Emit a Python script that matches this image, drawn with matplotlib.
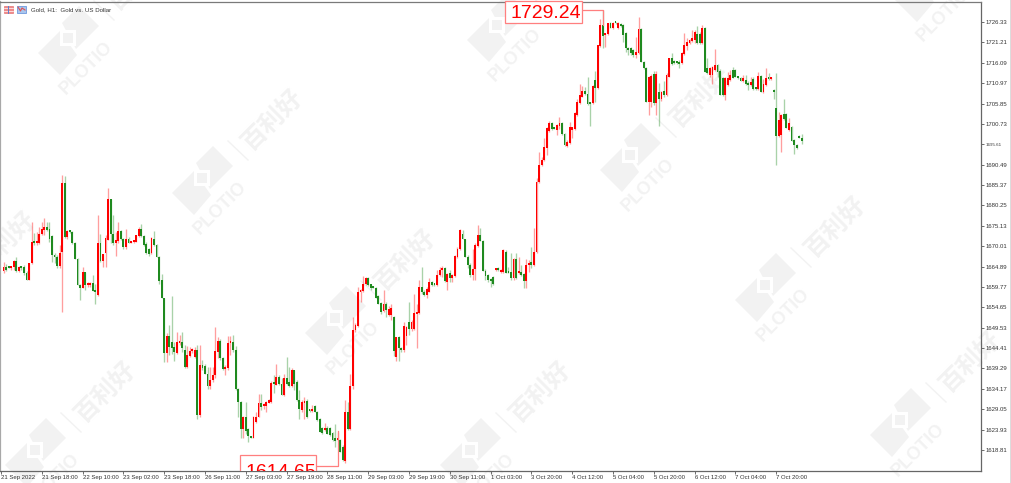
import numpy as np
import matplotlib
matplotlib.use("Agg")
import matplotlib.pyplot as plt
from matplotlib.patches import Polygon, Rectangle
from matplotlib.transforms import IdentityTransform

opens = [
1663.8,1664.8,1664.8,1664.4,1664.8,1666.3,1663.8,1664.8,1664.8,1663.3,
1661.6,1665.7,1671.1,1670.7,1670.7,1673.0,1674.0,1674.9,1674.2,1672.5,
1667.8,1667.3,1665.0,1668.6,1685.8,1672.2,1673.8,1673.6,1670.9,1666.9,
1660.2,1659.6,1663.6,1660.2,1660.2,1660.8,1659.0,1657.7,1670.7,1666.3,
1668.2,1671.5,1681.8,1673.0,1670.7,1671.3,1673.8,1671.7,1669.7,1671.9,
1670.9,1671.0,1671.1,1672.5,1674.2,1672.5,1670.5,1669.2,1668.2,1671.8,
1670.3,1667.3,1661.5,1656.9,1643.2,1647.4,1646.0,1644.7,1643.2,1645.6,
1646.0,1644.0,1639.7,1642.5,1643.6,1642.2,1643.9,1627.6,1640.1,1639.9,
1638.0,1634.8,1636.3,1637.6,1643.5,1646.2,1641.8,1639.1,1639.3,1645.6,
1646.0,1643.9,1634.1,1630.9,1624.0,1627.1,1624.0,1622.1,1621.9,1625.9,
1627.1,1630.5,1629.8,1629.8,1630.7,1630.9,1635.7,1635.1,1637.2,1635.5,
1632.6,1636.8,1635.8,1634.9,1638.9,1635.9,1631.3,1628.8,1630.6,1631.1,
1628.8,1628.6,1629.8,1628.4,1626.7,1624.2,1623.8,1624.2,1624.2,1623.1,
1621.7,1621.3,1621.4,1619.6,1616.1,1628.4,1624.0,1634.8,1648.9,1649.9,
1658.6,1658.8,1660.5,1661.9,1660.4,1659.6,1659.5,1657.5,1655.8,1653.8,
1655.5,1652.7,1652.7,1652.1,1642.2,1647.1,1644.5,1643.9,1647.4,1651.0,
1649.1,1649.1,1652.9,1653.1,1659.8,1658.6,1657.7,1658.6,1660.9,1660.4,
1660.2,1662.7,1664.0,1664.6,1661.1,1663.2,1661.9,1662.5,1667.3,1669.2,
1673.0,1671.7,1667.3,1665.3,1662.7,1664.2,1670.0,1672.8,1671.4,1663.8,
1662.7,1661.7,1662.3,1664.0,1664.4,1663.6,1663.6,1668.6,1663.6,1663.6,
1661.9,1666.7,1663.2,1663.4,1662.9,1661.2,1665.3,1666.1,1665.3,1668.6,
1686.1,1690.4,1691.6,1694.6,1699.0,1700.9,1699.6,1699.3,1700.2,1701.0,
1698.3,1695.2,1696.0,1699.2,1699.5,1702.9,1705.9,1707.6,1709.1,1708.2,
1706.0,1705.9,1711.7,1709.7,1720.3,1725.6,1723.1,1723.2,1726.0,1724.7,
1726.2,1724.7,1725.8,1725.6,1723.5,1719.7,1719.7,1719.3,1718.0,1718.5,
1724.5,1716.4,1714.7,1706.3,1706.3,1713.3,1705.9,1708.8,1706.9,1709.1,
1708.0,1712.6,1717.2,1716.4,1716.1,1716.4,1716.0,1718.3,1720.3,1721.1,
1721.6,1721.8,1723.3,1723.3,1721.0,1724.7,1714.7,1713.0,1713.0,1714.3,
1715.5,1714.1,1712.2,1708.0,1710.5,1711.8,1714.3,1714.3,1712.4,1712.2,
1711.6,1711.8,1711.1,1710.5,1711.9,1709.6,1709.4,1712.8,1708.8,1710.5,
1712.3,1711.9,1709.2,1704.6,1697.7,1697.9,1703.2,1703.2,1699.2,1699.9,
1696.7,1695.5,1697.7,1697.2]

closes = [
1664.8,1664.0,1664.6,1664.8,1666.3,1663.7,1664.8,1664.4,1663.2,1661.6,
1665.8,1671.1,1670.7,1670.9,1673.0,1674.3,1674.9,1674.0,1671.7,1667.8,
1667.2,1665.0,1668.4,1685.8,1672.2,1673.9,1673.5,1670.9,1666.9,1660.2,
1659.6,1663.6,1660.2,1660.6,1660.8,1658.8,1658.4,1670.7,1666.3,1668.0,
1672.1,1681.8,1673.0,1670.7,1671.5,1673.8,1671.7,1669.7,1671.7,1670.9,
1671.0,1671.3,1672.7,1674.2,1672.5,1670.3,1668.2,1668.0,1672.0,1670.3,
1667.3,1661.3,1656.9,1643.2,1647.4,1644.7,1644.3,1643.5,1646.0,1646.0,
1644.3,1639.7,1642.6,1643.6,1644.0,1644.0,1627.6,1640.1,1639.3,1638.0,
1634.8,1636.5,1637.6,1643.7,1646.2,1641.8,1639.1,1639.7,1645.7,1646.0,
1643.9,1634.1,1630.9,1624.0,1627.1,1623.6,1622.3,1621.9,1627.1,1627.1,
1630.5,1629.6,1630.1,1630.9,1631.3,1635.7,1635.3,1637.2,1635.3,1632.6,
1636.8,1635.5,1634.9,1638.9,1635.5,1631.3,1629.0,1630.9,1631.1,1627.0,
1628.6,1628.8,1628.4,1626.3,1623.4,1623.1,1624.2,1622.9,1622.5,1621.3,
1621.1,1621.4,1618.3,1616.2,1628.4,1624.0,1634.8,1648.9,1650.2,1658.6,
1659.0,1660.6,1661.9,1660.2,1659.4,1659.5,1657.1,1655.6,1653.5,1655.5,
1653.9,1654.1,1654.4,1643.7,1647.1,1644.3,1643.9,1649.9,1649.8,1649.3,
1651.0,1653.1,1653.1,1659.8,1658.6,1657.7,1659.2,1660.9,1660.2,1660.2,
1662.7,1664.0,1664.6,1661.2,1663.0,1661.9,1662.7,1667.5,1669.4,1674.1,
1671.7,1667.3,1665.2,1662.7,1664.2,1670.3,1672.8,1671.4,1663.8,1662.5,
1661.5,1661.3,1660.5,1664.4,1664.0,1664.0,1669.0,1663.3,1663.3,1661.9,
1666.7,1661.9,1663.6,1662.7,1661.2,1665.3,1665.8,1665.3,1668.6,1686.1,
1690.4,1691.6,1695.0,1699.6,1700.9,1699.4,1699.5,1700.4,1700.9,1698.2,
1695.4,1696.3,1699.9,1699.9,1703.4,1706.3,1708.0,1709.1,1708.2,1705.7,
1705.7,1710.2,1709.7,1720.5,1725.6,1722.8,1723.5,1726.0,1724.7,1726.2,
1726.0,1726.2,1725.3,1723.1,1719.7,1719.3,1718.5,1718.0,1718.9,1724.5,
1716.4,1714.7,1706.3,1712.6,1712.8,1705.9,1713.3,1706.9,1708.8,1708.0,
1713.0,1717.2,1715.8,1716.0,1716.0,1715.8,1718.5,1720.5,1721.4,1721.8,
1722.2,1723.9,1721.0,1721.0,1724.7,1713.8,1713.4,1714.7,1715.1,1715.5,
1713.8,1708.0,1708.0,1712.2,1712.2,1713.0,1712.2,1712.4,1712.2,1711.6,
1712.2,1710.8,1710.5,1711.3,1709.4,1709.4,1712.8,1708.8,1710.8,1712.2,
1711.9,1712.2,1708.8,1697.7,1701.7,1702.9,1701.9,1699.6,1700.9,1696.5,
1695.4,1694.6,1697.3,1696.5]

highs = [
1666.1,1665.5,1665.0,1664.9,1666.5,1667.2,1665.0,1665.0,1665.3,1663.7,
1665.9,1676.1,1673.4,1673.6,1674.9,1676.1,1677.2,1676.1,1676.1,1672.8,
1668.2,1667.8,1670.3,1687.9,1687.6,1674.0,1674.0,1673.8,1671.1,1667.0,
1660.6,1664.8,1663.6,1660.9,1660.9,1662.7,1660.6,1677.8,1673.0,1668.0,
1672.8,1684.5,1681.8,1677.8,1673.6,1676.1,1674.0,1672.0,1674.2,1672.2,
1671.2,1671.6,1672.8,1674.7,1675.7,1672.8,1671.0,1669.5,1672.4,1673.9,
1670.5,1667.5,1662.9,1657.0,1648.1,1650.2,1657.5,1646.0,1648.5,1647.7,
1648.5,1645.1,1644.9,1644.7,1644.3,1644.7,1645.1,1645.1,1641.5,1640.3,
1639.7,1639.7,1639.7,1649.6,1647.2,1646.8,1642.2,1640.1,1647.4,1647.4,
1647.8,1644.9,1634.3,1631.0,1627.3,1630.9,1624.2,1622.3,1627.3,1628.4,
1632.8,1632.8,1630.5,1631.2,1631.7,1636.2,1637.6,1640.3,1637.6,1636.8,
1637.8,1642.2,1639.7,1639.3,1638.9,1636.3,1633.8,1631.3,1632.1,1631.5,
1629.0,1630.1,1630.1,1628.6,1626.9,1624.6,1625.6,1624.8,1624.6,1623.3,
1625.4,1623.4,1621.6,1620.0,1631.3,1630.9,1637.8,1652.3,1650.6,1659.8,
1659.2,1662.5,1662.3,1662.3,1660.6,1659.9,1659.7,1657.7,1656.0,1659.1,
1656.0,1655.0,1655.5,1652.5,1647.2,1647.4,1644.7,1651.0,1650.0,1656.0,
1651.5,1658.0,1655.4,1661.6,1664.7,1659.0,1659.8,1661.9,1661.2,1660.6,
1664.0,1664.8,1665.0,1664.8,1663.3,1664.0,1663.0,1667.8,1669.9,1674.2,
1674.1,1671.9,1667.8,1665.7,1669.4,1670.7,1675.3,1674.5,1671.6,1664.2,
1663.0,1662.0,1662.6,1664.6,1664.7,1664.2,1669.3,1669.0,1664.8,1668.4,
1667.1,1668.2,1667.2,1665.3,1663.2,1666.7,1666.5,1669.7,1674.5,1687.1,
1693.6,1692.4,1697.1,1700.0,1701.5,1701.1,1699.8,1700.6,1702.5,1701.2,
1698.5,1696.8,1701.3,1700.0,1703.8,1707.0,1710.7,1710.2,1709.9,1712.4,
1706.2,1710.4,1713.9,1720.6,1727.0,1729.24,1723.6,1726.2,1726.3,1726.4,
1726.4,1726.4,1726.0,1725.8,1723.7,1720.0,1720.0,1719.5,1722.5,1727.7,
1724.7,1716.6,1714.9,1712.8,1713.3,1713.9,1713.9,1711.0,1708.9,1711.6,
1713.4,1717.3,1718.5,1716.8,1716.2,1716.7,1718.7,1723.5,1722.2,1722.0,
1724.3,1724.3,1725.2,1723.9,1725.6,1725.0,1717.2,1714.9,1715.3,1719.5,
1715.7,1714.5,1712.4,1712.6,1713.8,1714.3,1715.1,1714.5,1712.6,1712.4,
1713.0,1713.0,1711.6,1712.6,1712.6,1710.0,1713.8,1713.0,1712.0,1714.7,
1713.4,1712.4,1709.5,1713.4,1703.8,1703.2,1707.1,1703.4,1702.1,1700.2,
1697.0,1695.8,1698.0,1698.2]

lows = [
1663.2,1663.8,1664.5,1664.0,1664.0,1663.6,1663.5,1664.0,1662.7,1661.4,
1661.4,1665.5,1670.3,1670.3,1670.5,1672.8,1672.8,1673.8,1671.1,1666.1,
1665.7,1664.4,1664.4,1653.5,1672.0,1671.9,1673.2,1670.5,1666.9,1660.2,
1656.5,1659.4,1659.0,1659.8,1659.8,1658.8,1655.4,1657.5,1666.1,1664.7,
1664.7,1671.5,1670.7,1670.3,1667.5,1670.7,1671.5,1669.2,1669.4,1670.7,
1670.7,1670.7,1671.0,1672.3,1672.2,1670.0,1668.0,1667.6,1668.0,1670.0,
1667.3,1660.6,1656.9,1641.0,1641.0,1642.6,1643.0,1641.2,1643.0,1645.1,
1643.5,1639.3,1639.3,1642.2,1643.2,1641.8,1626.5,1627.1,1639.0,1638.0,
1634.2,1634.2,1635.9,1636.8,1641.8,1641.5,1638.8,1637.6,1639.0,1642.6,
1643.5,1633.8,1627.1,1621.7,1621.7,1622.9,1620.8,1621.7,1621.7,1625.7,
1627.0,1628.8,1629.0,1628.4,1630.5,1630.7,1633.0,1635.0,1635.1,1632.6,
1632.4,1635.1,1634.7,1634.7,1633.8,1631.2,1626.7,1628.4,1626.5,1626.8,
1628.4,1628.4,1628.4,1626.1,1623.2,1622.8,1623.5,1622.7,1622.2,1621.0,
1619.6,1621.0,1618.3,1616.0,1615.6,1623.8,1623.8,1634.0,1648.5,1649.7,
1656.0,1658.5,1660.3,1660.0,1659.0,1659.4,1657.1,1655.4,1653.0,1653.5,
1652.2,1652.5,1651.5,1642.4,1641.2,1641.2,1643.5,1643.5,1645.1,1647.7,
1648.6,1648.9,1644.3,1653.0,1658.0,1657.5,1656.9,1658.4,1660.0,1660.1,
1660.0,1662.5,1662.3,1661.1,1659.0,1661.1,1661.1,1662.3,1667.0,1669.0,
1671.7,1667.3,1664.5,1662.2,1661.6,1661.6,1669.8,1671.2,1663.8,1661.5,
1661.0,1659.8,1660.2,1663.8,1663.8,1663.3,1663.3,1663.2,1663.2,1661.6,
1661.6,1661.8,1663.0,1662.6,1659.4,1659.4,1663.6,1664.5,1665.0,1668.4,
1685.8,1690.2,1691.4,1693.0,1698.8,1699.2,1699.4,1698.0,1699.5,1698.0,
1695.2,1695.0,1695.8,1697.3,1699.3,1702.7,1705.7,1707.4,1708.0,1705.5,
1700.2,1705.7,1706.3,1709.5,1720.0,1719.7,1720.0,1723.0,1724.7,1724.5,
1725.8,1724.5,1725.0,1721.3,1718.8,1718.0,1718.0,1717.6,1717.4,1718.3,
1716.4,1714.5,1706.2,1702.9,1705.0,1705.5,1703.0,1700.2,1706.5,1707.5,
1707.8,1712.4,1715.5,1715.7,1715.9,1714.7,1715.8,1718.1,1719.3,1720.9,
1721.4,1721.0,1720.9,1720.9,1720.8,1713.8,1713.2,1712.6,1710.8,1714.1,
1712.6,1708.0,1707.8,1706.7,1710.3,1711.6,1712.2,1712.4,1712.0,1711.4,
1711.3,1710.6,1709.2,1710.3,1709.2,1709.2,1709.2,1708.8,1708.6,1710.3,
1711.7,1711.7,1707.1,1690.4,1697.4,1693.7,1701.7,1699.6,1699.0,1696.5,
1693.2,1694.5,1697.2,1695.7]

price_ticks = [1726.33,1721.21,1716.09,1710.97,1705.85,1700.73,1695.61,1690.49,1685.37,1680.25,
               1675.13,1670.01,1664.89,1659.77,1654.65,1649.53,1644.41,1639.29,1634.17,1629.05,
               1623.93,1618.81]
time_labels = ["21 Sep 2022","21 Sep 18:00","22 Sep 10:00","23 Sep 02:00","23 Sep 18:00",
               "26 Sep 11:00","27 Sep 03:00","27 Sep 19:00","28 Sep 11:00","29 Sep 03:00",
               "29 Sep 19:00","30 Sep 11:00","1 Oct 03:00","3 Oct 20:00","4 Oct 12:00",
               "5 Oct 04:00","5 Oct 20:00","6 Oct 12:00","7 Oct 04:00","7 Oct 20:00"]
tick_step = 16
max_price, min_price = 1729.24, 1614.65
title = "Gold, H1:  Gold vs. US Dollar"

assert len(opens) == len(closes) == len(highs) == len(lows)

W, H = 1012, 483
UI = "Liberation Sans"
CJK = "Noto Sans CJK SC"
fig = plt.figure(figsize=(W/100, H/100), dpi=100, facecolor="white")
L, R, T, B = 0, 981, 2, 471
ax = fig.add_axes([L/W, 1-B/H, (R-L)/W, (B-T)/H], facecolor="none", zorder=2)

per_bar = 2.55
per_price = 3.98
ax.set_xlim((L-1)/per_bar, (R-1)/per_bar)
ax.set_ylim(1726.33-(B-22)/per_price, 1726.33-(T-22)/per_price)
px_x = lambda p: (p-1)/per_bar
px_y = lambda p: 1726.33-(p-22)/per_price

# ---- watermark, in image pixels
WM = "#f2f2f2"
ident = IdentityTransform()
def poly(pts, color):
    fig.add_artist(Polygon([(x, H-y) for x, y in pts], closed=True, fc=color, ec="none",
                           transform=ident, zorder=-5))
def logo(cx, cy):
    poly([(cx-6,cy-15),(cx+11,cy-32),(cx+31,cy-12),(cx+8,cy+11)], WM)
    poly([(cx-8,cy-7),(cx-30,cy+15),(cx-8,cy+37),(cx+9,cy+17)], WM)
    poly([(cx-8,cy-8),(cx+8,cy-8),(cx+8,cy+8),(cx-8,cy+8)], "white")
    poly([(cx-5,cy-5),(cx+5,cy-5),(cx+5,cy+5),(cx-5,cy+5)], WM)
    fig.add_artist(plt.Line2D([cx+26,cx+46],[H-(cy-37),H-(cy-18)], color=WM, lw=1.0,
                              transform=ident, zorder=-5))
    fig.text((cx+18)/W, 1-(cy+30)/H, "PLOTIO", rotation=45, ha="center", va="center",
             rotation_mode="anchor", family=UI, weight="bold", fontsize=13, color=WM, zorder=-5)
    fig.text((cx+71)/W, 1-(cy-58)/H, "百利好", rotation=45, ha="center", va="center",
             rotation_mode="anchor", family=CJK, weight="bold", fontsize=18, color=WM, zorder=-5)
for c in [(68,38),(202,178),(335,318),(470,450),(497,25),(630,155),(765,285),(900,420),
          (-65,300),(35,450),(925,-15)]:
    logo(*c)

# ---- candles
idx = np.arange(1, len(opens)+1)
o, h, l, c = map(np.array, (opens, highs, lows, closes))
up = c >= o
RED, GREEN = "#ff0000", "#1f8a1f"
colors = np.where(up, RED, GREEN)
ax.vlines(idx, l, h, colors=colors, lw=0.95, alpha=0.38, zorder=3)
ax.bar(idx, np.maximum(np.abs(c-o), 0.5), bottom=np.minimum(o, c), width=0.72,
       color=colors, linewidth=0, zorder=4)

# ---- high / low labels
PINK = "#ff7f7f"
hi_i = idx[int(np.argmax(h))]
lo_x = px_x(337.7)
ax.plot([px_x(581), hi_i, hi_i], [max_price, max_price, px_y(25)], color=PINK, lw=0.9, zorder=5)
ax.plot([px_x(316), lo_x, lo_x], [min_price, min_price, px_y(431)], color=PINK, lw=0.9, zorder=5)
ax.add_patch(Rectangle((px_x(505), px_y(22.5)), px_x(581.5)-px_x(505), px_y(1)-px_y(22.5),
                       fc="white", ec=PINK, lw=0.9, zorder=6, clip_on=False))
ax.add_patch(Rectangle((px_x(239.5), px_y(480)), px_x(316)-px_x(239.5), px_y(455)-px_y(480),
                       fc="white", ec=PINK, lw=0.9, zorder=6))
ax.text(px_x(545.5), px_y(18), f"{max_price:.2f}", color="red", fontsize=14, family=UI,
        ha="center", va="baseline", zorder=7)
ax.text(px_x(280.5), px_y(477), f"{min_price:.2f}", color="red", fontsize=14, family=UI,
        ha="center", va="baseline", zorder=7, clip_on=True)

# ---- axes
ax.spines["left"].set_color("#a8a8a8"); ax.spines["left"].set_linewidth(1.6)
ax.spines["top"].set_color("#7a7a7a"); ax.spines["top"].set_linewidth(0.9)
ax.spines["bottom"].set_color("#666666"); ax.spines["bottom"].set_linewidth(0.9)
ax.spines["right"].set_color("#666666"); ax.spines["right"].set_linewidth(0.9)

ax.yaxis.tick_right()
ax.set_yticks(price_ticks)
ax.set_yticklabels([f"{p:.2f}" for p in price_ticks], family=UI, fontsize=4.3, color="#333333")
ax.tick_params(axis="y", length=2.2, width=0.6, color="#555555", pad=0.8)
for t, p in zip(ax.get_yticklabels(), price_ticks):
    if p == 1695.61:
        t.set_fontsize(3.2)

tick_pos = [k*tick_step for k in range(len(time_labels))]
ax.set_xticks(tick_pos)
ax.set_xticklabels(time_labels, family=UI, fontsize=4.3, color="#333333", ha="left")
ax.tick_params(axis="x", length=2.2, width=0.6, color="#555555", pad=0.8)

# ---- right edge strip
fig.add_artist(Rectangle((1010/W, 0), 2/W, 1, transform=fig.transFigure, fc="#dcdcdc", ec="none", zorder=1))

# ---- header
fig.add_artist(Rectangle((4, H-13), 9, 7.5, transform=ident, fc="#f08a8a", ec="#e06060", lw=0.4, zorder=3))
for yy in (H-10.5, H-8):
    fig.add_artist(plt.Line2D([4, 13], [yy, yy], color="white", lw=0.5, transform=ident, zorder=4))
fig.add_artist(plt.Line2D([8, 8], [H-13, H-5.5], color="#5a7fd0", lw=0.7, transform=ident, zorder=4))
fig.add_artist(Rectangle((17, H-13), 9, 7.5, transform=ident, fc="#a9c6ee", ec="#5a8ad8", lw=0.5, zorder=3))
fig.add_artist(plt.Line2D([18, 20.5, 22, 25], [H-7, H-11, H-8, H-10], color="#e05050", lw=0.8,
                          transform=ident, zorder=4))
fig.text(31/W, 1-9.5/H, title, family=UI, fontsize=4.4, color="#333333", va="center", ha="left", zorder=4)

fig.savefig("out.png", dpi=100)
